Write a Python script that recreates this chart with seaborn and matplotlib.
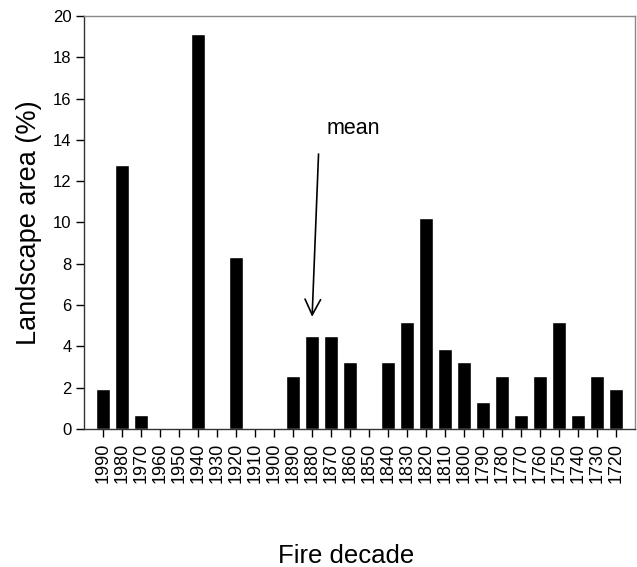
import matplotlib
matplotlib.use("Agg")
import matplotlib.pyplot as plt
import seaborn as sns
import pandas as pd

decades = ["1990", "1980", "1970", "1960", "1950", "1940", "1930", "1920",
           "1910", "1900", "1890", "1880", "1870", "1860", "1850", "1840",
           "1830", "1820", "1810", "1800", "1790", "1780", "1770", "1760",
           "1750", "1740", "1730", "1720"]
area_pct = [1.94, 12.77, 0.68, 0, 0, 19.13, 0, 8.31,
            0, 0, 2.58, 4.48, 4.48, 3.23, 0, 3.23,
            5.16, 10.23, 3.87, 3.23, 1.29, 2.58, 0.68, 2.58,
            5.16, 0.68, 2.58, 1.94]

sns.set_style("white")
plt.rcParams["font.family"] = ["Liberation Sans", "DejaVu Sans"]
plt.rcParams["text.color"] = "black"
plt.rcParams["axes.labelcolor"] = "black"
plt.rcParams["xtick.color"] = "black"
plt.rcParams["ytick.color"] = "black"

df = pd.DataFrame({"decade": decades, "area": area_pct})

fig, ax = plt.subplots(figsize=(6.37, 5.67), dpi=100)
fig.subplots_adjust(left=84 / 637, right=635 / 637, top=1 - 16 / 567, bottom=1 - 429 / 567)

sns.barplot(data=df, x="decade", y="area", order=decades, color="black",
            width=0.7, saturation=1, ax=ax)

ax.set_xlim(-1, len(decades))
ax.set_ylim(0, 20)
ax.set_yticks(range(0, 21, 2))

# arrow pointing at the mean decade
ax.annotate("", xy=(11, 5.3), xytext=(11.35, 13.45),
            arrowprops=dict(arrowstyle="->", lw=1.2, color="black", mutation_scale=28))
ax.text(11.75, 14.55, "mean", fontsize=15.5, ha="left", va="center")

ax.set_xlabel("Fire decade", fontsize=18.5)
ax.xaxis.set_label_coords(0.475, -0.278)
ax.set_ylabel("Landscape area (%)", fontsize=19.5, labelpad=8)
ax.tick_params(axis="x", labelrotation=90, labelsize=13, direction="out",
               length=6, width=1, bottom=True, pad=4)
ax.tick_params(axis="y", labelsize=12, direction="out", length=6, width=1,
               left=True, pad=3)

for side in ["left", "bottom"]:
    ax.spines[side].set_color("#333333")
    ax.spines[side].set_linewidth(1)
for side in ["top", "right"]:
    ax.spines[side].set_color("#888888")
    ax.spines[side].set_linewidth(1)

fig.savefig("out.png", dpi=100)
plt.close(fig)
